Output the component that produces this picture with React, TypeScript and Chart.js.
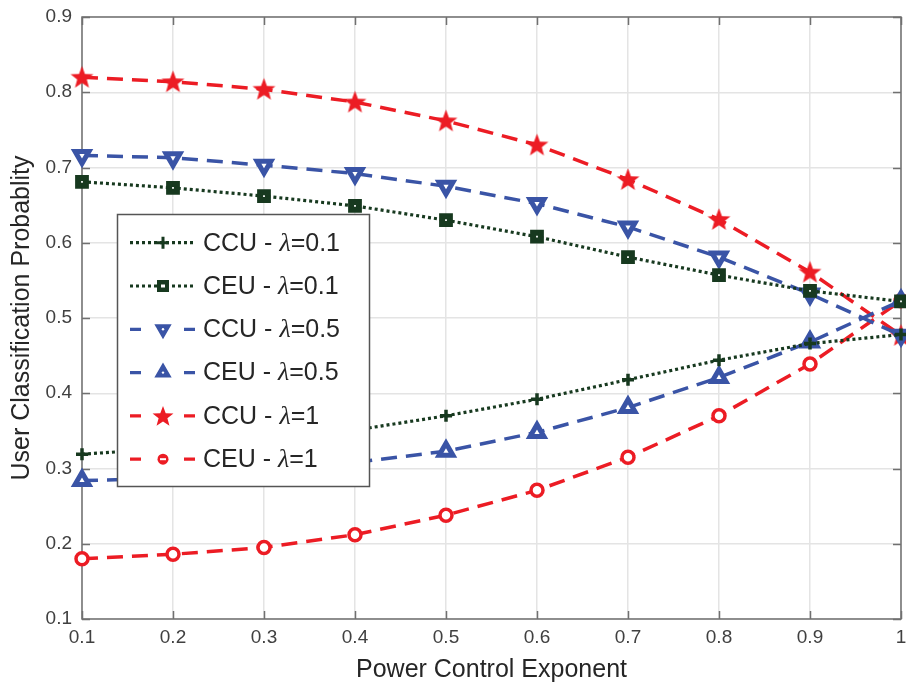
import React, { useEffect, useRef } from "react";
import { Chart, registerables } from "chart.js";

Chart.register(...registerables);

// ---- data ----
const xValues = [0.1, 0.2, 0.3, 0.4, 0.5, 0.6, 0.7, 0.8, 0.9, 1.0];
const ccuLambda01 = [0.319, 0.327, 0.338, 0.351, 0.370, 0.392, 0.418, 0.444, 0.466, 0.478];
const ceuLambda01 = [0.681, 0.673, 0.662, 0.649, 0.630, 0.608, 0.581, 0.557, 0.536, 0.522];
const ccuLambda05 = [0.716, 0.713, 0.703, 0.692, 0.675, 0.652, 0.621, 0.581, 0.532, 0.477];
const ceuLambda05 = [0.284, 0.287, 0.297, 0.308, 0.323, 0.348, 0.381, 0.421, 0.468, 0.523];
const ccuLambda1 = [0.820, 0.814, 0.804, 0.787, 0.762, 0.730, 0.684, 0.631, 0.561, 0.477];
const ceuLambda1 = [0.180, 0.186, 0.195, 0.212, 0.238, 0.271, 0.315, 0.370, 0.439, 0.523];

const legendPrefixes = ["CCU - ", "CEU - ", "CCU - ", "CEU - ", "CCU - ", "CEU - "];
const legendLambdas = ["=0.1", "=0.1", "=0.5", "=0.5", "=1", "=1"];

const xTitle = "Power Control Exponent";
const yTitle = "User Classification Probablity";

const GREEN = "#17391f";
const BLUE = "#3a54a6";
const RED = "#ec1c24";
const AXIS = "#707070";
const FONT = "'Liberation Sans', Arial, Helvetica, sans-serif";

function makeStar(size: number, color: string) {
  const c = document.createElement("canvas");
  c.width = size;
  c.height = size;
  const ctx = c.getContext("2d")!;
  drawStar(ctx, size / 2, size / 2 + 0.8, size / 2 - 0.5, color);
  return c;
}

function drawStar(ctx: CanvasRenderingContext2D, cx: number, cy: number, R: number, color: string) {
  const r = R * 0.42;
  ctx.beginPath();
  for (let i = 0; i < 10; i++) {
    const ang = -Math.PI / 2 + (i * Math.PI) / 5;
    const rad = i % 2 === 0 ? R : r;
    ctx.lineTo(cx + rad * Math.cos(ang), cy + rad * Math.sin(ang));
  }
  ctx.closePath();
  ctx.fillStyle = color;
  ctx.fill();
}

type MarkerKind = "plus" | "square" | "tridown" | "triup" | "star" | "circle";

function drawMarker(ctx: CanvasRenderingContext2D, kind: MarkerKind, x: number, y: number, color: string) {
  ctx.save();
  ctx.setLineDash([]);
  ctx.strokeStyle = color;
  ctx.fillStyle = color;
  ctx.lineWidth = 3;
  if (kind === "plus") {
    ctx.beginPath();
    ctx.moveTo(x - 6, y);
    ctx.lineTo(x + 6, y);
    ctx.moveTo(x, y - 6);
    ctx.lineTo(x, y + 6);
    ctx.stroke();
  } else if (kind === "square") {
    ctx.fillRect(x - 6, y - 6, 12, 12);
    ctx.fillStyle = "#fff";
    ctx.fillRect(x - 2, y - 1.5, 4, 3);
  } else if (kind === "tridown" || kind === "triup") {
    const s = kind === "triup" ? -1 : 1;
    const R = 7;
    ctx.beginPath();
    ctx.moveTo(x, y + s * R);
    ctx.lineTo(x - R * 0.866, y - s * R * 0.5);
    ctx.lineTo(x + R * 0.866, y - s * R * 0.5);
    ctx.closePath();
    ctx.fill();
    ctx.lineJoin = "miter";
    ctx.stroke();
    ctx.fillStyle = "#fff";
    ctx.beginPath();
    ctx.arc(x, y, 1.2, 0, Math.PI * 2);
    ctx.fill();
  } else if (kind === "star") {
    drawStar(ctx, x, y + 1, 11, color);
  } else if (kind === "circle") {
    ctx.beginPath();
    ctx.arc(x, y, 5.5, 0, Math.PI * 2);
    ctx.fill();
    ctx.fillStyle = "#fff";
    ctx.fillRect(x - 3, y - 1, 6, 2);
  }
  ctx.restore();
}

const legendKinds: MarkerKind[] = ["plus", "square", "tridown", "triup", "star", "circle"];
const legendColors = [GREEN, GREEN, BLUE, BLUE, RED, RED];
const legendDotted = [true, true, false, false, false, false];

const framePlugin = {
  id: "frame",
  beforeDatasetsDraw(chart: any) {
    const { ctx, chartArea: a, scales } = chart;
    ctx.save();
    ctx.strokeStyle = AXIS;
    ctx.lineWidth = 1.5;
    ctx.strokeRect(a.left, a.top, a.right - a.left, a.bottom - a.top);
    const tl = 8;
    ctx.beginPath();
    scales.x.ticks.forEach((t: any) => {
      const px = Math.round(scales.x.getPixelForValue(t.value)) + 0.5;
      ctx.moveTo(px, a.bottom);
      ctx.lineTo(px, a.bottom - tl);
      ctx.moveTo(px, a.top);
      ctx.lineTo(px, a.top + tl);
    });
    scales.y.ticks.forEach((t: any) => {
      const py = Math.round(scales.y.getPixelForValue(t.value)) + 0.5;
      ctx.moveTo(a.left, py);
      ctx.lineTo(a.left + tl, py);
      ctx.moveTo(a.right, py);
      ctx.lineTo(a.right - tl, py);
    });
    ctx.stroke();
    ctx.restore();
  },
  afterDatasetsDraw(chart: any) {
    const { ctx, chartArea: a } = chart;
    const bx = a.left + 35;
    const by = a.top + 197;
    const bw = 252;
    const bh = 272;
    ctx.save();
    ctx.fillStyle = "#fff";
    ctx.fillRect(bx, by, bw, bh);
    ctx.strokeStyle = "#555";
    ctx.lineWidth = 1.5;
    ctx.strokeRect(bx + 0.5, by + 0.5, bw, bh);
    for (let i = 0; i < 6; i++) {
      const cy = by + 28.7 + i * 43.3;
      const lx0 = bx + 13;
      const lx1 = bx + 78;
      const mx = bx + 46;
      ctx.strokeStyle = legendColors[i];
      ctx.lineWidth = 3.2;
      if (legendDotted[i]) {
        ctx.setLineDash([3, 3]);
        ctx.beginPath();
        ctx.moveTo(lx0, cy);
        ctx.lineTo(lx1, cy);
        ctx.stroke();
      } else {
        ctx.setLineDash([]);
        ctx.beginPath();
        ctx.moveTo(lx0, cy);
        ctx.lineTo(lx0 + 11, cy);
        ctx.moveTo(lx1 - 11, cy);
        ctx.lineTo(lx1, cy);
        ctx.stroke();
      }
      ctx.setLineDash([]);
      drawMarker(ctx, legendKinds[i], mx, cy, legendColors[i]);
      ctx.fillStyle = "#262626";
      ctx.textBaseline = "middle";
      ctx.textAlign = "left";
      let tx = bx + 86;
      ctx.font = `25px ${FONT}`;
      ctx.fillText(legendPrefixes[i], tx, cy + 1);
      tx += ctx.measureText(legendPrefixes[i]).width;
      ctx.font = `italic 26px 'Liberation Serif', 'Times New Roman', serif`;
      ctx.fillText("λ", tx, cy + 1);
      tx += ctx.measureText("λ").width;
      ctx.font = `25px ${FONT}`;
      ctx.fillText(legendLambdas[i], tx, cy + 1);
    }
    ctx.restore();
  },
};

export default function App() {
  const canvasRef = useRef<HTMLCanvasElement | null>(null);

  useEffect(() => {
    document.body.style.margin = "0";
    const canvas = canvasRef.current!;
    const star = makeStar(25, RED);

    const pts = (arr: number[]) => xValues.map((x, i) => ({ x, y: arr[i] }));

    const dotted = [3, 3];
    const dashed = [16, 9];

    const chart = new Chart(canvas, {
      type: "line",
      data: {
        datasets: [
          {
            label: "CCU - λ=0.1",
            data: pts(ccuLambda01),
            borderColor: GREEN,
            backgroundColor: GREEN,
            borderWidth: 3.2,
            borderDash: dotted,
            pointStyle: "cross",
            pointRadius: 6,
            pointBorderWidth: 3.5,
            pointBorderColor: GREEN,
          },
          {
            label: "CEU - λ=0.1",
            data: pts(ceuLambda01),
            borderColor: GREEN,
            backgroundColor: "#ffffff",
            borderWidth: 3.2,
            borderDash: dotted,
            pointStyle: "rect",
            pointRadius: 5.5,
            pointBorderWidth: 6,
            pointBorderColor: GREEN,
            pointBackgroundColor: "#ffffff",
          },
          {
            label: "CCU - λ=0.5",
            data: pts(ccuLambda05),
            borderColor: BLUE,
            backgroundColor: "#ffffff",
            borderWidth: 3.5,
            borderDash: dashed,
            pointStyle: "triangle",
            pointRotation: 180,
            pointRadius: 8,
            pointBorderWidth: 5,
            pointBorderColor: BLUE,
            pointBackgroundColor: "#ffffff",
          },
          {
            label: "CEU - λ=0.5",
            data: pts(ceuLambda05),
            borderColor: BLUE,
            backgroundColor: "#ffffff",
            borderWidth: 3.5,
            borderDash: dashed,
            pointStyle: "triangle",
            pointRadius: 8,
            pointBorderWidth: 5,
            pointBorderColor: BLUE,
            pointBackgroundColor: "#ffffff",
          },
          {
            label: "CCU - λ=1",
            data: pts(ccuLambda1),
            borderColor: RED,
            backgroundColor: RED,
            borderWidth: 3.5,
            borderDash: dashed,
            pointStyle: star as any,
            pointRadius: 11,
          },
          {
            label: "CEU - λ=1",
            data: pts(ceuLambda1),
            borderColor: RED,
            backgroundColor: "#ffffff",
            borderWidth: 3.5,
            borderDash: dashed,
            pointStyle: "circle",
            pointRadius: 6,
            pointBorderWidth: 3.5,
            pointBorderColor: RED,
            pointBackgroundColor: "#ffffff",
          },
        ] as any,
      },
      options: {
        responsive: false,
        animation: false,
        clip: false as any,
        layout: { autoPadding: false, padding: { top: 17, right: 5, left: 0, bottom: 0 } },
        plugins: {
          legend: { display: false },
          tooltip: { enabled: false },
        },
        elements: { line: { tension: 0, borderCapStyle: "butt" } },
        scales: {
          x: {
            type: "linear",
            min: 0.1,
            max: 1,
            ticks: {
              stepSize: 0.1,
              autoSkip: false,
              maxRotation: 0,
              padding: 7,
              color: "#404040",
              font: { family: FONT, size: 19 },
              callback: (v: any) => {
                const n = Number(v);
                return Math.abs(n - 1) < 1e-9 ? "1" : n.toFixed(1);
              },
            },
            grid: { color: "#e4e4e4", lineWidth: 1.5, drawTicks: false },
            border: { display: false },
            title: {
              display: true,
              text: xTitle,
              color: "#262626",
              font: { family: FONT, size: 25 },
              padding: { top: 0, bottom: 1 },
            },
            afterFit: (s: any) => {
              s.height = 67;
              s.paddingLeft = 0;
              s.paddingRight = 0;
            },
          },
          y: {
            type: "linear",
            min: 0.1,
            max: 0.9,
            ticks: {
              stepSize: 0.1,
              autoSkip: false,
              padding: 10,
              color: "#404040",
              font: { family: FONT, size: 19 },
              callback: (v: any) => Number(v).toFixed(1),
            },
            grid: { color: "#e4e4e4", lineWidth: 1.5, drawTicks: false },
            border: { display: false },
            title: {
              display: true,
              text: yTitle,
              color: "#262626",
              font: { family: FONT, size: 25 },
              padding: { top: 7, bottom: 0 },
            },
            afterFit: (s: any) => {
              s.width = 82;
              s.paddingTop = 0;
              s.paddingBottom = 0;
            },
          },
        },
      } as any,
      plugins: [framePlugin],
    });

    return () => chart.destroy();
  }, []);

  return (
    <div style={{ width: 906, height: 686, background: "#fff" }}>
      <canvas ref={canvasRef} width={906} height={686} style={{ width: 906, height: 686, display: "block" }} />
    </div>
  );
}
